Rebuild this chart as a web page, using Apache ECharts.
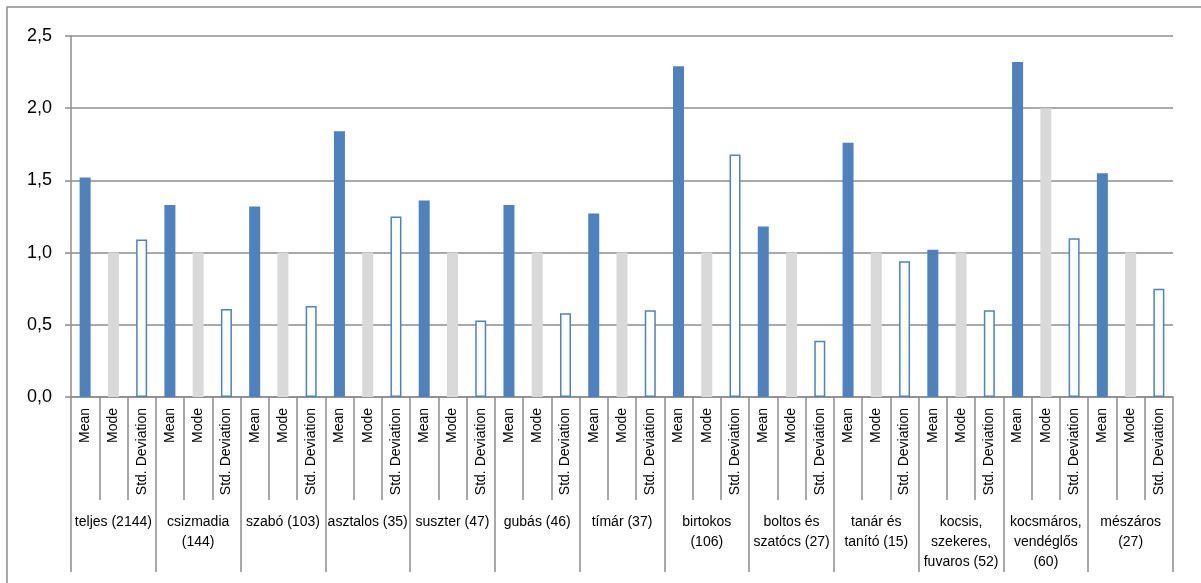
<!DOCTYPE html>
<html>
<head>
<meta charset="utf-8">
<script src="https://cdn.jsdelivr.net/npm/echarts@6/dist/echarts.min.js"></script>
<style>
html,body{margin:0;padding:0;background:#fff;}
#chart{width:1201px;height:583px;}
</style>
</head>
<body>
<div id="chart"></div>
<script>
const groups = ['teljes (2144)', 'csizmadia\n(144)', 'szabó (103)', 'asztalos (35)', 'suszter (47)', 'gubás (46)', 'tímár (37)', 'birtokos\n(106)', 'boltos és\nszatócs (27)', 'tanár és\ntanító (15)', 'kocsis,\nszekeres,\nfuvaros (52)', 'kocsmáros,\nvendéglős\n(60)', 'mészáros\n(27)'];
const subLabels = ['Mean', 'Mode', 'Std. Deviation'];
const means = [1.52, 1.33, 1.32, 1.84, 1.36, 1.33, 1.27, 2.29, 1.18, 1.76, 1.02, 2.32, 1.55];
const modes = [1, 1, 1, 1, 1, 1, 1, 1, 1, 1, 1, 2, 1];
const stds  = [1.09, 0.61, 0.63, 1.25, 0.53, 0.58, 0.60, 1.68, 0.39, 0.94, 0.60, 1.10, 0.75];
const yTicks = [0, 0.5, 1.0, 1.5, 2.0, 2.5];

const BLUE = '#4f81bd', GRAY = '#d9d9d9', LINE = '#8c8c8c';
const FONT = '"Liberation Sans", Arial, sans-serif';

const cats = [];
const data = [];
groups.forEach((g, i) => {
  cats.push(subLabels[0], subLabels[1], subLabels[2]);
  data.push({ value: means[i], itemStyle: { color: BLUE } });
  data.push({ value: modes[i], itemStyle: { color: GRAY } });
  data.push({ value: stds[i], itemStyle: { color: '#ffffff', borderColor: BLUE, borderWidth: 1.5 } });
});

const chart = echarts.init(document.getElementById('chart'), null, { renderer: 'canvas' });
chart.setOption({
  animation: false,
  backgroundColor: '#ffffff',
  grid: { left: 71, right: 28, top: 36, bottom: 186, containLabel: false },
  graphic: [{
    type: 'rect', silent: true,
    shape: { x: 7, y: 7, width: 1200, height: 600 },
    style: { fill: 'none', stroke: LINE, lineWidth: 1.5 }
  }],
  xAxis: [{
    type: 'category', data: cats, position: 'bottom',
    axisLine: { show: true, lineStyle: { color: LINE, width: 1.5 } },
    axisTick: { show: true, interval: 0, length: 103, alignWithLabel: false, lineStyle: { color: LINE, width: 1.5 } },
    axisLabel: { interval: 0, rotate: 90, margin: 11, fontFamily: FONT, fontSize: 14, color: '#000' },
    splitLine: { show: false }
  }, {
    type: 'category', data: groups, position: 'bottom',
    axisLine: { show: false },
    axisTick: { show: true, interval: 0, length: 175, alignWithLabel: false, lineStyle: { color: LINE, width: 1.5 } },
    axisLabel: { interval: 0, margin: 115, fontFamily: FONT, fontSize: 14, lineHeight: 20, color: '#000', align: 'center', verticalAlign: 'top' },
    splitLine: { show: false }
  }],
  yAxis: {
    type: 'value', min: yTicks[0], max: yTicks[yTicks.length - 1], interval: 0.5,
    axisLine: { show: true, lineStyle: { color: LINE, width: 1.5 } },
    axisTick: { show: true, length: 6, lineStyle: { color: LINE, width: 1.5 } },
    axisLabel: { margin: 19, fontFamily: FONT, fontSize: 18, color: '#000',
      formatter: v => v.toFixed(1).replace('.', ',') },
    splitLine: { show: true, lineStyle: { color: LINE, width: 1.5 } }
  },
  series: [{
    type: 'bar', xAxisIndex: 0, data: data, barWidth: 11,
    emphasis: { disabled: true }
  }]
});
</script>
</body>
</html>
